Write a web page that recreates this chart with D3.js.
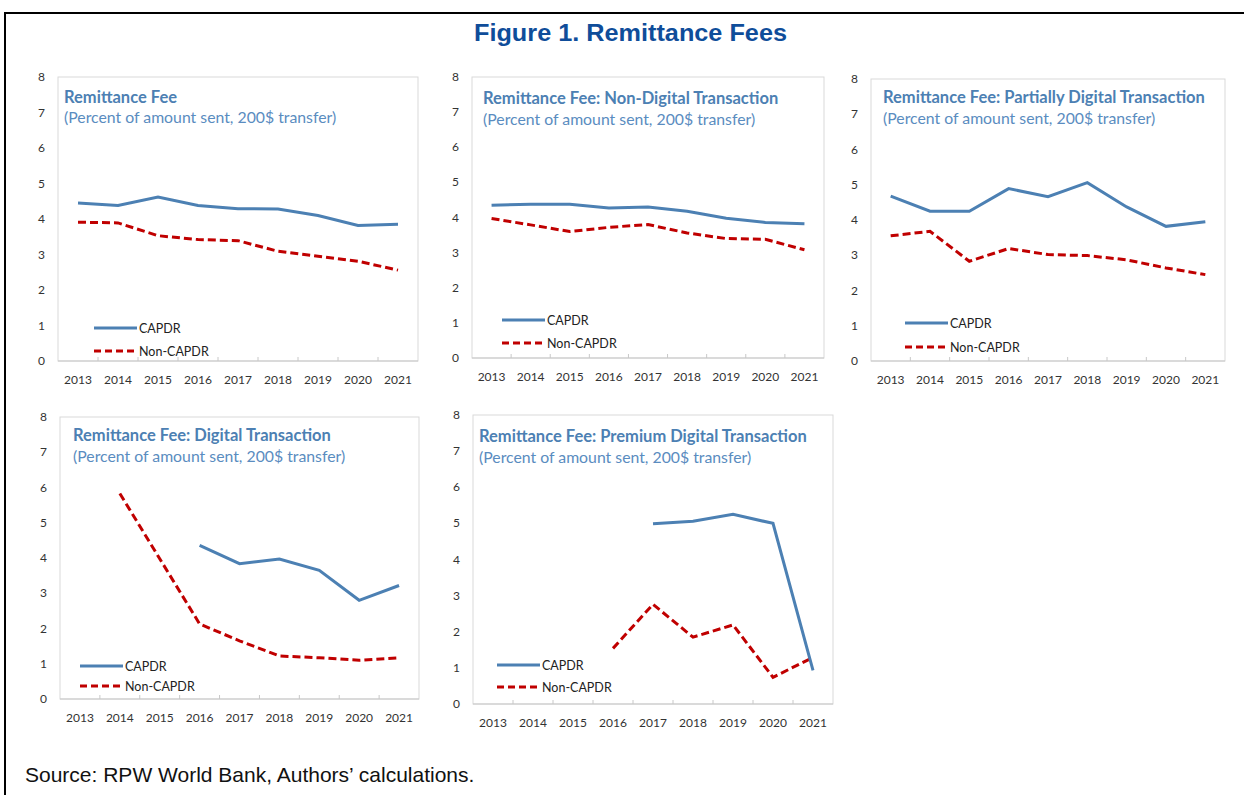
<!DOCTYPE html>
<html>
<head>
<meta charset="utf-8">
<script src="https://cdn.jsdelivr.net/npm/d3@7"></script>
<style>
  body { margin: 0; background: #fff; }
  svg { display: block; }
</style>
</head>
<body>
<svg id="chart" width="1244" height="795"></svg>
<script>
// data
var years = [2013, 2014, 2015, 2016, 2017, 2018, 2019, 2020, 2021];
var yTicks = [0, 1, 2, 3, 4, 5, 6, 7, 8];
var seriesNames = ["CAPDR", "Non-CAPDR"];
var panelTitles = [
    "Remittance Fee",
    "Remittance Fee: Non-Digital Transaction",
    "Remittance Fee: Partially Digital Transaction",
    "Remittance Fee: Digital Transaction",
    "Remittance Fee: Premium Digital Transaction"
];
var subTitle = "(Percent of amount sent, 200$ transfer)";

var feeCapdr = [4.45, 4.38, 4.62, 4.38, 4.29, 4.28, 4.10, 3.82, 3.85];
var feeNon   = [3.91, 3.89, 3.53, 3.42, 3.39, 3.09, 2.95, 2.81, 2.56];
var nonDigCapdr = [4.35, 4.38, 4.38, 4.27, 4.30, 4.18, 3.98, 3.86, 3.82];
var nonDigNon   = [3.97, 3.79, 3.60, 3.72, 3.80, 3.56, 3.40, 3.38, 3.08];
var partCapdr = [4.68, 4.25, 4.25, 4.89, 4.66, 5.06, 4.37, 3.82, 3.95];
var partNon   = [3.55, 3.68, 2.83, 3.19, 3.02, 2.99, 2.87, 2.64, 2.45];
var digCapdr = [null, null, null, 4.36, 3.84, 3.97, 3.65, 2.80, 3.22];
var digNon   = [null, 5.83, 3.98, 2.13, 1.65, 1.22, 1.17, 1.10, 1.17];
var premCapdr = [null, null, null, null, 4.99, 5.06, 5.25, 5.00, 0.93];
var premNon   = [null, null, null, 1.54, 2.76, 1.85, 2.19, 0.74, 1.29];

var capdrValues = [feeCapdr, nonDigCapdr, partCapdr, digCapdr, premCapdr];
var nonValues = [feeNon, nonDigNon, partNon, digNon, premNon];

// layout of each small chart (plot box + where title and legend sit)
var boxes = [
    {x: 58,  y: 77,  w: 360, h: 284, tx: 6,  ty: 26, sy: 46, lx: 94,  ly: 328, ly2: 351},
    {x: 472, y: 77,  w: 352, h: 281, tx: 11, ty: 27, sy: 48, lx: 502, ly: 320, ly2: 343},
    {x: 871, y: 79,  w: 354, h: 282, tx: 12, ty: 24, sy: 45, lx: 905, ly: 323, ly2: 347},
    {x: 60,  y: 417, w: 359, h: 282, tx: 13, ty: 24, sy: 45, lx: 80,  ly: 666, ly2: 686},
    {x: 473, y: 415, w: 360, h: 289, tx: 6,  ty: 27, sy: 48, lx: 497, ly: 665, ly2: 687}
];

var blue = "#4c80b3";
var red = "#c00000";
var labelFont = "Lato, 'Open Sans', sans-serif";

var svg = d3.select("#chart");

// outer frame (top + left only, like the cropped figure)
svg.append("path")
    .attr("d", "M5,795 L5,13 L1244,13")
    .attr("fill", "none")
    .attr("stroke", "#000")
    .attr("stroke-width", 2);

svg.append("text")
    .attr("x", 474)
    .attr("y", 41)
    .attr("textLength", 313)
    .attr("lengthAdjust", "spacingAndGlyphs")
    .attr("font-family", "'Liberation Sans', Arial, sans-serif")
    .attr("font-weight", "bold")
    .attr("font-size", 23)
    .attr("fill", "#0f4d9a")
    .text("Figure 1. Remittance Fees");

svg.append("text")
    .attr("x", 25)
    .attr("y", 782)
    .attr("font-family", "'Liberation Sans', Arial, sans-serif")
    .attr("font-size", 21)
    .attr("fill", "#111")
    .text("Source: RPW World Bank, Authors\u2019 calculations.");

boxes.forEach(function (b, i) {
    var g = svg.append("g");

    var x = d3.scaleBand().domain(years).range([b.x, b.x + b.w]);
    var y = d3.scaleLinear().domain([0, 8]).range([b.y + b.h, b.y]);

    g.append("rect")
        .attr("x", b.x)
        .attr("y", b.y)
        .attr("width", b.w)
        .attr("height", b.h)
        .attr("fill", "none")
        .attr("stroke", "#d9d9d9");

    // x axis line + inner ticks between categories
    g.append("line")
        .attr("x1", b.x).attr("x2", b.x + b.w)
        .attr("y1", y(0)).attr("y2", y(0))
        .attr("stroke", "#c8c8c8");

    g.selectAll(".tick")
        .data(years.slice(1))
        .enter().append("line")
        .attr("x1", function (d) { return x(d); })
        .attr("x2", function (d) { return x(d); })
        .attr("y1", y(0))
        .attr("y2", y(0) - 4)
        .attr("stroke", "#c8c8c8");

    g.selectAll(".xl")
        .data(years)
        .enter().append("text")
        .attr("x", function (d) { return x(d) + x.bandwidth() / 2; })
        .attr("y", y(0) + 23)
        .attr("text-anchor", "middle")
        .attr("font-family", labelFont)
        .attr("font-size", 12)
        .attr("fill", "#333")
        .text(function (d) { return d; });

    g.selectAll(".yl")
        .data(yTicks)
        .enter().append("text")
        .attr("x", b.x - 13)
        .attr("y", function (d) { return y(d) + 4; })
        .attr("text-anchor", "end")
        .attr("font-family", labelFont)
        .attr("font-size", 12)
        .attr("fill", "#333")
        .text(function (d) { return d; });

    g.append("text")
        .attr("x", b.x + b.tx)
        .attr("y", b.y + b.ty)
        .attr("font-family", labelFont)
        .attr("font-weight", "bold")
        .attr("font-size", 16.5)
        .attr("fill", blue)
        .text(panelTitles[i]);

    g.append("text")
        .attr("x", b.x + b.tx)
        .attr("y", b.y + b.sy)
        .attr("font-family", labelFont)
        .attr("font-size", 15.8)
        .attr("fill", "#5a8cc0")
        .text(subTitle);

    var line = d3.line()
        .defined(function (d) { return d != null; })
        .x(function (d, j) { return x(years[j]) + x.bandwidth() / 2; })
        .y(function (d) { return y(d); });

    g.append("path")
        .attr("d", line(nonValues[i]))
        .attr("fill", "none")
        .attr("stroke", red)
        .attr("stroke-width", 3)
        .attr("stroke-dasharray", "8,4");

    g.append("path")
        .attr("d", line(capdrValues[i]))
        .attr("fill", "none")
        .attr("stroke", blue)
        .attr("stroke-width", 3);

    // legend
    var legY = [b.ly, b.ly2];
    seriesNames.forEach(function (name, k) {
        g.append("line")
            .attr("x1", b.lx).attr("x2", b.lx + 43)
            .attr("y1", legY[k]).attr("y2", legY[k])
            .attr("stroke", k == 0 ? blue : red)
            .attr("stroke-width", 3)
            .attr("stroke-dasharray", k == 0 ? null : "7,4");
        g.append("text")
            .attr("x", b.lx + 45)
            .attr("y", legY[k] + 4.5)
            .attr("font-family", labelFont)
            .attr("font-size", 12.5)
            .attr("fill", "#222")
            .text(name);
    });
});
</script>
</body>
</html>
